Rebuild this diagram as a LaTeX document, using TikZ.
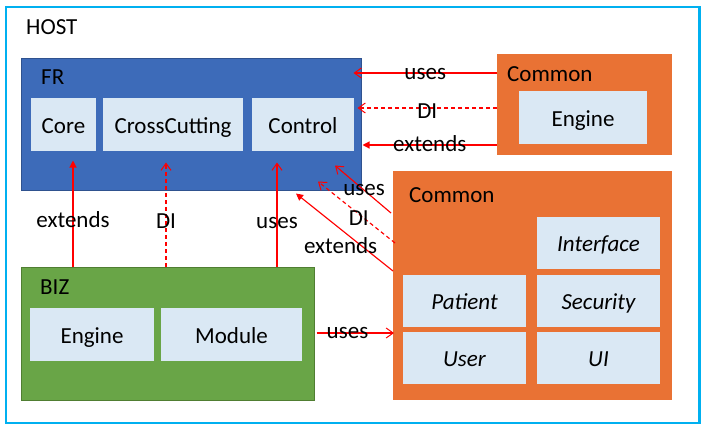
\documentclass[tikz,border=0pt]{standalone}
\usepackage{fontspec}
\setmainfont{Carlito}
\usetikzlibrary{arrows.meta}
\definecolor{hostc}{HTML}{00B0F0}
\definecolor{frfill}{HTML}{3D6BB9}
\definecolor{frline}{HTML}{2F528F}
\definecolor{bizfill}{HTML}{69A547}
\definecolor{bizline}{HTML}{507E32}
\definecolor{comfill}{HTML}{E97234}
\definecolor{inner}{HTML}{DAE8F4}
\definecolor{arrowred}{HTML}{FF0000}
\tikzset{
  x=1pt, y=-1pt,
  every node/.style={font=\fontsize{23}{27}\selectfont, inner sep=0pt},
  group/.style={rectangle, draw=#1, line width=1pt},
  inbox/.style={rectangle, fill=inner, draw=none, text height=17pt, text depth=0pt},
  title/.style={anchor=base west},
  lbl/.style={anchor=base},
  conn/.style={draw=arrowred, line width=1.15pt},
  usesarrow/.style={conn, -{Straight Barb[length=7pt,width=10pt,line width=1pt]}},
  diarrow/.style={conn, dash pattern=on 4pt off 3pt, -{Straight Barb[length=7pt,width=10pt,line width=1pt,sep=0pt]}},
  extarrow/.style={conn, -{Triangle[length=7pt,width=7pt]}},
}
\begin{document}
\begin{tikzpicture}
\useasboundingbox (0,0) rectangle (708,431);
% HOST frame
\draw[hostc, line width=2.7pt] (6,7) rectangle (699.5,423);
\node[title] (host) at (26,34) {HOST};

% FR
\node[group=frline, fill=frfill, minimum width=340pt, minimum height=132pt] (fr) at (191,124) {};
\node[title] (frt) at (41,84) {FR};
\node[inbox, minimum width=65pt, minimum height=53pt] (core) at (63.5,124.5) {Core};
\node[inbox, minimum width=140pt, minimum height=53pt] (cross) at (173,124.5) {CrossCutting};
\node[inbox, minimum width=102pt, minimum height=53pt] (control) at (303,124.5) {Control};

% Common (top)
\node[group=comfill, fill=comfill, line width=0pt, minimum width=174pt, minimum height=100pt] (common1) at (584,104) {};
\node[title] (c1t) at (507,81) {Common};
\node[inbox, minimum width=128pt, minimum height=53pt] (engine1) at (583,117.5) {Engine};

% Common (bottom)
\node[group=comfill, fill=comfill, line width=0pt, minimum width=278pt, minimum height=228pt] (common2) at (532,285) {};
\node[title] (c2t) at (409,202) {Common};
\node[inbox, minimum width=123pt, minimum height=52pt] (iface) at (598.5,243) {\itshape Interface};
\node[inbox, minimum width=123pt, minimum height=52pt] (patient) at (464.5,301) {\itshape Patient};
\node[inbox, minimum width=123pt, minimum height=52pt] (security) at (598.5,301) {\itshape Security};
\node[inbox, minimum width=123pt, minimum height=52pt] (user) at (464.5,358) {\itshape User};
\node[inbox, minimum width=123pt, minimum height=52pt] (ui) at (598.5,358) {\itshape UI};

% BIZ
\node[group=bizline, fill=bizfill, minimum width=293pt, minimum height=133pt] (biz) at (167.5,333.5) {};
\node[title] (bizt) at (40,294) {BIZ};
\node[inbox, minimum width=124pt, minimum height=53pt] (engine2) at (92,334.5) {Engine};
\node[inbox, minimum width=141pt, minimum height=53pt] (module) at (231.5,334.5) {Module};

% Common (top) -> FR
\draw[usesarrow] ([yshift=31pt]common1.west) -- node[lbl, pos=0.5, yshift=-6pt] (l1) {uses} ([xshift=-8pt,yshift=51pt]fr.east);
\draw[diarrow] ([yshift=-4pt]common1.west) -- node[lbl, pos=0.5, yshift=-10pt] (l2) {DI} ([xshift=-4pt,yshift=16pt]fr.east);
\draw[extarrow] ([yshift=-41pt]common1.west) -- node[lbl, pos=0.5, yshift=-6pt] (l3) {extends} ([xshift=1pt,yshift=-21pt]fr.east);

% Common (bottom) -> FR
\draw[usesarrow] ([xshift=-2pt,yshift=72pt]common2.west) -- node[lbl, pos=0.48, yshift=-5pt] (l4) {uses} ([xshift=144pt,yshift=25pt]fr.south);
\draw[diarrow] ([xshift=2pt,yshift=42pt]common2.west) -- node[lbl, pos=0.47, yshift=-11pt] (l5) {DI} ([xshift=127pt,yshift=9pt]fr.south);
\draw[extarrow] ([yshift=14pt]common2.west) -- node[lbl, pos=0.54, yshift=-24pt] (l6) {extends} ([xshift=105pt,yshift=-3pt]fr.south);

% BIZ -> FR
\draw[extarrow] ([xshift=-94.5pt]biz.north) -- node[lbl, pos=0.364] (l7) {extends} ([xshift=-118pt,yshift=30pt]fr.south);
\draw[diarrow] ([xshift=-1.5pt]biz.north) -- node[lbl, pos=0.364] (l8) {DI} ([xshift=-25pt,yshift=28pt]fr.south);
\draw[usesarrow] ([xshift=109.5pt]biz.north) -- node[lbl, pos=0.364] (l9) {uses} ([xshift=86pt,yshift=28pt]fr.south);

% BIZ -> Common (bottom)
\draw[usesarrow] ([xshift=2pt,yshift=0.5pt]biz.east) -- node[lbl, pos=0.4, yshift=-5pt] (l10) {uses} ([xshift=1pt,yshift=0.5pt]common2.west |- biz.east);
\end{tikzpicture}
\end{document}
